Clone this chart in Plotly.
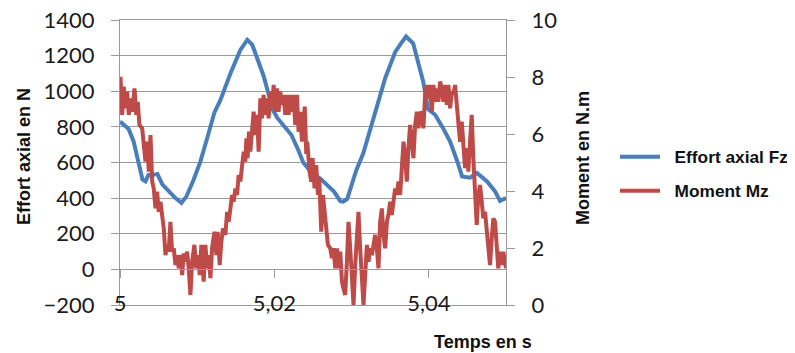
import plotly.graph_objects as go

# ---- data ----
fz_time = [5.0, 5.0011, 5.00175, 5.00239, 5.00291, 5.0033, 5.00369, 5.00446, 5.00485, 5.0055,
           5.00627, 5.00718, 5.00796, 5.00861, 5.00951, 5.01041, 5.01132, 5.01222, 5.013, 5.0143,
           5.01559, 5.01649, 5.01714, 5.01792, 5.01857, 5.01921, 5.01973, 5.02038, 5.02115, 5.02219,
           5.02309, 5.02374, 5.02439, 5.02503, 5.02594, 5.02684, 5.02775, 5.02853, 5.02892, 5.02943,
           5.02995, 5.0306, 5.0315, 5.03215, 5.03305, 5.03435, 5.03564, 5.03642, 5.03706, 5.03797,
           5.03862, 5.03927, 5.03991, 5.04082, 5.04185, 5.04276, 5.04366, 5.04431, 5.04534, 5.04625,
           5.04754, 5.04858, 5.04922, 5.04961, 5.05]
fz_values = [830, 790, 720, 590, 505, 494, 530, 532, 535, 476,
             440, 400, 373, 410, 500, 605, 740, 880, 950, 1100,
             1232, 1288, 1260, 1170, 1090, 990, 900, 850, 812, 756,
             670, 600, 565, 535, 510, 476, 435, 383, 380, 395,
             470, 555, 650, 740, 880, 1073, 1220, 1270, 1307, 1269,
             1165, 1055, 900, 868, 793, 718, 610, 522, 515, 541,
             494, 438, 385, 392, 401]

mz_time = [5.00006, 5.00028, 5.00049, 5.00071, 5.00093, 5.00114, 5.00136, 5.00158, 5.00188, 5.0021,
           5.0023, 5.00252, 5.00287, 5.00308, 5.0033, 5.00352, 5.00373, 5.00395, 5.00417, 5.00437,
           5.00459, 5.00481, 5.00502, 5.00524, 5.00546, 5.00567, 5.00589, 5.00611, 5.00631, 5.00653,
           5.00675, 5.00696, 5.00718, 5.0074, 5.00761, 5.00783, 5.00805, 5.00825, 5.00847, 5.00869,
           5.0089, 5.00912, 5.00934, 5.00964, 5.00986, 5.01012, 5.01032, 5.01054, 5.01084, 5.01106,
           5.01128, 5.01149, 5.01171, 5.01193, 5.01223, 5.01248, 5.01265, 5.01291, 5.01313, 5.01335,
           5.01365, 5.01387, 5.01408, 5.0143, 5.01452, 5.01472, 5.01494, 5.01516, 5.01537, 5.01559,
           5.01581, 5.01602, 5.01624, 5.01637, 5.01653, 5.01671, 5.01688, 5.0171, 5.01731, 5.01753,
           5.01775, 5.01796, 5.01818, 5.0184, 5.0186, 5.01882, 5.01904, 5.01925, 5.01947, 5.01969,
           5.0199, 5.02012, 5.02034, 5.02054, 5.02076, 5.02098, 5.02119, 5.02141, 5.02163, 5.02184,
           5.02206, 5.02228, 5.02248, 5.0227, 5.02292, 5.02313, 5.02335, 5.02357, 5.02378, 5.02393,
           5.02413, 5.02426, 5.02455, 5.02477, 5.02494, 5.0252, 5.02542, 5.02564, 5.02581, 5.02607,
           5.02629, 5.0265, 5.02668, 5.02693, 5.02723, 5.02745, 5.02766, 5.02788, 5.0281, 5.02831,
           5.02853, 5.02875, 5.02895, 5.02917, 5.02939, 5.0296, 5.02982, 5.03004, 5.03025, 5.03047,
           5.03069, 5.03089, 5.03111, 5.03133, 5.03154, 5.03176, 5.03198, 5.03219, 5.03241, 5.03263,
           5.03283, 5.03305, 5.03327, 5.03348, 5.0337, 5.03392, 5.03413, 5.03435, 5.03457, 5.03477,
           5.03499, 5.03521, 5.03542, 5.03564, 5.03586, 5.03607, 5.03629, 5.03651, 5.03672, 5.03693,
           5.03715, 5.03736, 5.03758, 5.0378, 5.03801, 5.03823, 5.03845, 5.03866, 5.03888, 5.0391,
           5.0393, 5.03952, 5.03974, 5.03995, 5.04017, 5.04039, 5.0406, 5.04082, 5.04104, 5.04124,
           5.04146, 5.04168, 5.04189, 5.04211, 5.04233, 5.04254, 5.04276, 5.04298, 5.04318, 5.0434,
           5.04362, 5.04383, 5.04405, 5.04427, 5.04448, 5.0447, 5.04492, 5.04512, 5.04534, 5.04556,
           5.04577, 5.04599, 5.04621, 5.04642, 5.04664, 5.04686, 5.04706, 5.04728, 5.0475, 5.04771,
           5.04793, 5.04815, 5.04836, 5.04858, 5.0488, 5.049, 5.04922, 5.04944, 5.04965, 5.05]
mz_values = [8.01, 6.67, 7.66, 6.9, 7.49, 6.67, 7.25, 6.78, 7.6, 6.67,
             7.13, 6.32, 6.2, 5.61, 5.03, 5.73, 4.68, 5.96, 4.33, 4.09,
             3.39, 3.98, 3.27, 3.62, 3.16, 2.69, 1.75, 2.11, 1.87, 2.92,
             1.87, 1.99, 1.40, 1.75, 1.29, 1.75, 1.05, 1.81, 1.52, 1.87,
             1.29, 0.35, 1.52, 2.11, 1.29, 1.75, 1.05, 2.11, 0.82, 2.11,
             1.29, 1.75, 0.94, 1.99, 2.57, 1.75, 2.57, 1.40, 2.22, 2.69,
             2.46, 3.27, 2.92, 3.51, 3.86, 3.62, 4.09, 3.86, 4.56, 4.33,
             4.80, 5.38, 5.03, 5.85, 5.15, 6.08, 5.38, 6.32, 6.78, 5.96,
             6.67, 5.38, 7.25, 6.55, 7.37, 6.67, 7.25, 6.55, 7.49, 6.9,
             7.72, 6.78, 7.6, 6.78, 7.49, 7.02, 7.37, 6.67, 7.37, 6.67,
             7.37, 6.78, 7.37, 6.32, 7.37, 6.08, 6.78, 5.73, 6.32, 6.96,
             5.3, 5.73, 4.68, 4.33, 5.15, 4.09, 4.91, 3.86, 4.45, 2.57,
             3.86, 3.16, 2.57, 2.11, 1.99, 1.64, 1.99, 1.29, 1.99, 1.29,
             1.87, 0.82, 0.58, 0.35, 1.52, 2.92, 1.99, 0.94, 0.0, 1.40,
             2.57, 3.27, 1.99, 0.70, 0.0, 1.05, 2.11, 1.52, 1.99, 1.75,
             2.11, 2.46, 1.99, 1.29, 2.92, 3.39, 2.46, 1.99, 2.92, 3.16,
             3.62, 3.16, 3.62, 4.09, 3.86, 4.33, 3.86, 4.80, 5.73, 5.26,
             4.33, 5.5, 6.32, 5.73, 5.15, 6.32, 6.78, 6.2, 6.78, 6.67,
             6.2, 7.37, 7.72, 7.25, 7.72, 6.78, 7.72, 7.13, 7.6, 7.13,
             7.84, 7.6, 7.13, 7.72, 7.02, 7.72, 6.9, 7.49, 7.37, 7.72,
             7.13, 6.32, 5.73, 6.43, 5.5, 4.8, 5.5, 4.68, 5.73, 6.67,
             5.15, 4.09, 2.81, 3.86, 4.21, 3.62, 3.04, 3.27, 2.57, 1.99,
             1.40, 2.34, 3.04, 2.92, 1.99, 1.29, 1.87, 1.40, 1.87, 1.29]

x_tick_vals = [5.0, 5.02, 5.04]
x_tick_text = ["5", "5,02", "5,04"]
series_names = ["Effort axial Fz", "Moment Mz"]
x_range = [5.0, 5.05]

assert len(fz_time) == len(fz_values)
assert len(mz_time) == len(mz_values), (len(mz_time), len(mz_values))

BLUE = "#4a7ebb"
RED = "#be4b48"
GRID = "#9a9a9a"
TICKFONT = dict(family="Lato, Carlito, Calibri, sans-serif", size=22, color="#1a1a1a")
BOLDFONT = dict(family="Liberation Sans, Arial, sans-serif", size=18, color="#111111")
LEGFONT = dict(family="Liberation Sans, Arial, sans-serif", size=17.3, color="#111111")
PAD = "\u00a0\u00a0"  # widens the gap between legend line and label

# page body adds an 8px offset; the layout is shifted to compensate
fig = go.Figure()
fig.add_trace(go.Scatter(x=mz_time, y=mz_values, name=PAD + series_names[1], yaxis="y2",
                         mode="lines", line=dict(color=RED, width=4), legend="legend2"))
fig.add_trace(go.Scatter(x=fz_time, y=fz_values, name=PAD + series_names[0], yaxis="y",
                         mode="lines", line=dict(color=BLUE, width=4), legend="legend"))
# empty helper traces so the extra x axes (zero line with ticks, bottom labels) get drawn
for ax in ("x2", "x3"):
    fig.add_trace(go.Scatter(x=x_range, y=[None, None], xaxis=ax, yaxis="y", mode="lines",
                             showlegend=False, hoverinfo="skip"))

fig.update_layout(
    width=795, height=353,
    margin=dict(l=112, r=297, t=12, b=56, autoexpand=False),
    paper_bgcolor="white", plot_bgcolor="white",
    showlegend=True,
    xaxis=dict(range=x_range, showgrid=False, zeroline=False, showline=True, mirror=True,
               linecolor=GRID, linewidth=1, ticks="", showticklabels=False, automargin=False),
    xaxis2=dict(range=x_range, overlaying="x", anchor="free", position=0.125,
                showgrid=False, zeroline=False, showline=True, linecolor=GRID, linewidth=1,
                ticks="outside", ticklen=8, tickcolor=GRID, tickvals=x_tick_vals,
                showticklabels=False, automargin=False),
    xaxis3=dict(range=x_range, overlaying="x", anchor="free", position=0.059,
                showgrid=False, zeroline=False, showline=False, ticks="",
                tickvals=x_tick_vals, ticktext=x_tick_text, tickfont=TICKFONT,
                ticklabeloverflow="allow", automargin=False),
    yaxis=dict(range=[-200, 1400], dtick=200, tick0=0, showgrid=True, gridcolor=GRID, gridwidth=1,
               zeroline=False, showline=True, linecolor=GRID, linewidth=1,
               ticks="outside", ticklen=8, tickcolor=GRID, tickfont=TICKFONT,
               ticklabelstandoff=12, ticklabeloverflow="allow", automargin=False),
    yaxis2=dict(range=[0, 10], dtick=2, overlaying="y", side="right", showgrid=False,
                zeroline=False, showline=True, linecolor=GRID, linewidth=1,
                ticks="outside", ticklen=8, tickcolor=GRID, tickfont=TICKFONT,
                ticklabelstandoff=12, ticklabeloverflow="allow", automargin=False),
    legend=dict(xref="container", yref="container", x=0.7635, y=0.578,
                xanchor="left", yanchor="middle", bgcolor="rgba(0,0,0,0)",
                font=LEGFONT, itemwidth=40),
    legend2=dict(xref="container", yref="container", x=0.7635, y=0.4816,
                 xanchor="left", yanchor="middle", bgcolor="rgba(0,0,0,0)",
                 font=LEGFONT, itemwidth=40),
    annotations=[
        dict(text="<b>Effort axial en N</b>", xref="paper", yref="paper",
             x=(24 - 120) / 386, y=(305 - 157) / 285, textangle=-90, showarrow=False,
             xanchor="center", yanchor="middle", font=BOLDFONT),
        dict(text="<b>Moment en N.m</b>", xref="paper", yref="paper",
             x=(583 - 120) / 386, y=(305 - 158) / 285, textangle=-90, showarrow=False,
             xanchor="center", yanchor="middle", font=BOLDFONT),
        dict(text="<b>Temps en s</b>", xref="paper", yref="paper",
             x=(483 - 120) / 386, y=(305 - 342) / 285, showarrow=False,
             xanchor="center", yanchor="middle", font=BOLDFONT),
    ],
)
fig.update_layout(legend_font_weight="bold", legend2_font_weight="bold")

fig.write_html("out.html")
